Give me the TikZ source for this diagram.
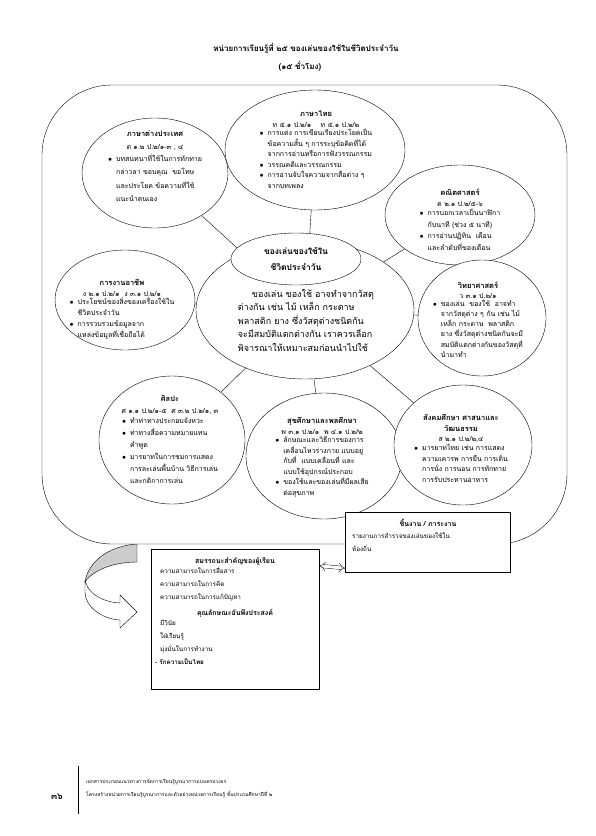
\documentclass[tikz,border=0pt]{standalone}
\usepackage{fontspec}
\setmainfont{Loma}[Script=Thai]
\usetikzlibrary{arrows.meta, shapes.geometric, positioning, backgrounds, calc}

\newcommand{\bul}{\makebox[8pt][l]{$\bullet$}}
\newcommand{\cont}{\hspace*{8pt}}
\newcommand{\blist}[1]{\begin{tabular}{@{}l@{}}#1\end{tabular}}
\newcommand{\hd}[1]{{\fontsize{7.5}{10}\selectfont\bfseries #1}}

\begin{document}
\begin{tikzpicture}[x=1pt, y=-1pt,
    bubble/.style={ellipse, draw=black, fill=white, inner sep=0pt},
    bubbletxt/.style={font=\fontsize{7}{10.5}\selectfont, align=center, inner sep=0pt},
    headtxt/.style={font=\fontsize{7}{9}\selectfont\bfseries},
    titletxt/.style={font=\fontsize{8}{11}\selectfont\bfseries, inner sep=0pt},
    boxtxt/.style={font=\fontsize{6.3}{13}\selectfont, align=left, inner sep=0pt},
    linkarrow/.style={double, double distance=3pt, {Implies[]}-{Implies[]}},
    every node/.style={inner sep=0pt}
]
\useasboundingbox (0,0) rectangle (595,836);

% title
\node[titletxt] (title1) at (306,48) {หน่วยการเรียนรู้ที่ ๒๕ ของเล่นของใช้ในชีวิตประจำวัน};
\node[titletxt] (title2) at (300,66) {(๑๕ ชั่วโมง)};

% frame round the web
\node[draw, rounded corners=70pt, minimum width=525pt, minimum height=459pt] (frame) at (304.5,314.5) {};

% subject bubbles
\node[bubble, minimum width=180pt, minimum height=120pt] (thai) at (315,150) {};
\node[bubbletxt] (thaiTxt) at (316,151) {\hd{ภาษาไทย}\\
  ท ๕.๑ ป.๒/๑ \quad ท ๕.๑ ป.๒/๒\\
  \blist{\bul การแต่ง การเขียนเรียงประโยคเป็น\\
         \cont ข้อความสั้น ๆ การระบุข้อคิดที่ได้\\
         \cont จากการอ่านหรือการฟังวรรณกรรม\\
         \bul วรรณคดีและวรรณกรรม\\
         \bul การอ่านจับใจความจากสื่อต่าง ๆ\\
         \cont จากบทเพลง}};

\node[bubble, minimum width=146pt, minimum height=110pt] (foreign) at (155,173) {};
\node[bubbletxt, font=\fontsize{7}{13.5}\selectfont] (foreignTxt) at (155,168) {\hd{ภาษาต่างประเทศ}\\
  ต ๑.๒ ป.๒/๑-๓ , ๔\\
  \blist{\bul บทสนทนาที่ใช้ในการทักทาย\\
         \cont กล่าวลา ขอบคุณ \ ขอโทษ\\
         \cont และประโยค ข้อความที่ใช้\\
         \cont แนะนำตนเอง}};

\node[bubble, minimum width=150pt, minimum height=100pt] (math) at (460,215) {};
\node[bubbletxt, font=\fontsize{7}{11.5}\selectfont] (mathTxt) at (460,221) {\hd{คณิตศาสตร์}\\
  ค ๒.๑ ป.๒/๕-๖\\
  \blist{\bul การบอกเวลาเป็นนาฬิกา\\
         \cont กับนาที (ช่วง ๕ นาที)\\
         \bul การอ่านปฏิทิน \ เดือน\\
         \cont และลำดับที่ของเดือน}};

\node[bubble, minimum width=140pt, minimum height=100pt] (career) at (125,300) {};
\node[bubbletxt, font=\fontsize{7}{11}\selectfont] (careerTxt) at (122,310) {\hd{การงานอาชีพ}\\
  ง ๒.๑ ป.๒/๑ \ ง ๓.๑ ป.๒/๑\\
  \blist{\bul ประโยชน์ของสิ่งของเครื่องใช้ใน\\
         \cont ชีวิตประจำวัน\\
         \bul การรวบรวมข้อมูลจาก\\
         \cont แหล่งข้อมูลที่เชื่อถือได้}};

\node[bubble, minimum width=128pt, minimum height=116pt] (science) at (482,318) {};
\node[bubbletxt, font=\fontsize{7}{10}\selectfont] (scienceTxt) at (478,321) {\hd{วิทยาศาสตร์}\\
  ว ๓.๑ ป.๒/๑\\
  \blist{\bul ของเล่น \ ของใช้ \ อาจทำ\\
         \cont จากวัสดุต่าง ๆ กัน เช่น ไม้\\
         \cont เหล็ก กระดาษ \ พลาสติก\\
         \cont ยาง ซึ่งวัสดุต่างชนิดกันจะมี\\
         \cont สมบัติแตกต่างกันของวัสดุที่\\
         \cont นำมาทำ}};

\node[bubble, minimum width=146pt, minimum height=128pt] (art) at (172,440) {};
\node[bubbletxt, font=\fontsize{7}{12}\selectfont] (artTxt) at (170,441) {\hd{ศิลปะ}\\
  ศ ๑.๑ ป.๒/๑-๕ \ ศ ๓.๒ ป.๒/๑, ๓\\
  \blist{\bul ทำท่าทางประกอบจังหวะ\\
         \bul ท่าทางสื่อความหมายแทน\\
         \cont คำพูด\\
         \bul มารยาทในการชมการแสดง\\
         \cont การละเล่นพื้นบ้าน วิธีการเล่น\\
         \cont และกติกาการเล่น}};

\node[bubble, minimum width=156pt, minimum height=126pt] (health) at (324,456) {};
\node[bubbletxt, font=\fontsize{7}{10.5}\selectfont] (healthTxt) at (322,458) {\hd{สุขศึกษาและพลศึกษา}\\
  พ ๓.๑ ป.๒/๑ \ พ ๔.๑ ป.๒/๒\\
  \blist{\bul ลักษณะและวิธีการของการ\\
         \cont เคลื่อนไหวร่างกาย แบบอยู่\\
         \cont กับที่ \ แบบเคลื่อนที่ และ\\
         \cont แบบใช้อุปกรณ์ประกอบ\\
         \bul ของใช้และของเล่นที่มีผลเสีย\\
         \cont ต่อสุขภาพ}};

\node[bubble, minimum width=138pt, minimum height=120pt] (social) at (463,445) {};
\node[bubbletxt, font=\fontsize{7}{10.5}\selectfont] (socialTxt) at (461,450) {\hd{สังคมศึกษา ศาสนาและ}\\
  \hd{วัฒนธรรม}\\
  ส ๒.๑ ป.๒/๒,๔\\
  \blist{\bul มารยาทไทย เช่น การแสดง\\
         \cont ความเคารพ การยืน การเดิน\\
         \cont การนั่ง การนอน การทักทาย\\
         \cont การรับประทานอาหาร}};

% core topic
\node[bubble, minimum width=218pt, minimum height=138pt] (core) at (305,310) {};
\node[bubble, minimum width=130pt, minimum height=52pt] (coreTitle) at (296,259) {};
\node[font=\fontsize{8.5}{16}\selectfont\bfseries, align=center] (coreHead) at (296,259) {ของเล่นของใช้ใน\\ชีวิตประจำวัน};
\node[font=\fontsize{9}{13.5}\selectfont, align=left] (coreTxt) at (306,320) {\hspace*{14pt}ของเล่น ของใช้ อาจทำจากวัสดุ\\
  ต่างกัน เช่น ไม้ เหล็ก กระดาษ\\
  พลาสติก ยาง ซึ่งวัสดุต่างชนิดกัน\\
  จะมีสมบัติแตกต่างกัน เราควรเลือก\\
  พิจารณาให้เหมาะสมก่อนนำไปใช้};

\begin{scope}[on background layer]
\foreach \subj in {thai, foreign, math, career, science, art, health, social}
  \draw (\subj) -- (core);
\end{scope}

% task and skills
\node[draw, fill=white, minimum width=165pt, minimum height=60pt, anchor=north west] (task) at (345,512) {};
\node[headtxt] (taskHead) at (428,523) {ชิ้นงาน / ภาระงาน};
\node[boxtxt, anchor=north west] (taskTxt) at (352,533) {รายงานการสำรวจของเล่นของใช้ใน\\ท้องถิ่น};

% curved arrow down to the box
\draw[fill=white] (85,581) -- (85,592) .. controls (85,606) and (101,619) .. (120,620)
  -- (120,628) -- (137,612) -- (120,595) -- (120,603)
  .. controls (103,602) and (89,594) .. (86,583) -- cycle;
\draw[fill=black!20] (137,544) -- (137,562) .. controls (114,562) and (93,570) .. (85,582)
  .. controls (88,562) and (108,546) .. (137,544) -- cycle;

\node[draw, minimum width=168pt, minimum height=140pt, anchor=north west] (skills) at (151,549) {};
\node[headtxt] (compHead) at (235,561) {สมรรถนะสำคัญของผู้เรียน};
\node[boxtxt, anchor=north west] (compList) at (160,567) {ความสามารถในการสื่อสาร\\ความสามารถในการคิด\\ความสามารถในการแก้ปัญหา};
\node[headtxt] (charHead) at (235,613) {คุณลักษณะอันพึงประสงค์};
\node[boxtxt, anchor=north west] (charList) at (160,620) {มีวินัย\\ใฝ่เรียนรู้\\มุ่งมั่นในการทำงาน\\\hspace*{-5pt}{\bfseries - รักความเป็นไทย}};

\draw[linkarrow] ($(skills.north east)!0.12!(skills.south east)$) -- ($(task.north west)!0.93!(task.south west)$);

% footer
\draw[thick] (78,766) -- (78,814);
\node[font=\fontsize{9}{11}\selectfont\bfseries] (pageNo) at (57,797) {๓๖};
\node[font=\fontsize{5}{13}\selectfont, align=left, anchor=west] (footTxt) at (86,789) {เอกสารประกอบแนวทางการจัดการเรียนรู้บูรณาการแบบครบวงจร\\โครงสร้างหน่วยการเรียนรู้บูรณาการและตัวอย่างหน่วยการเรียนรู้ ชั้นประถมศึกษาปีที่ ๒};
\end{tikzpicture}
\end{document}
